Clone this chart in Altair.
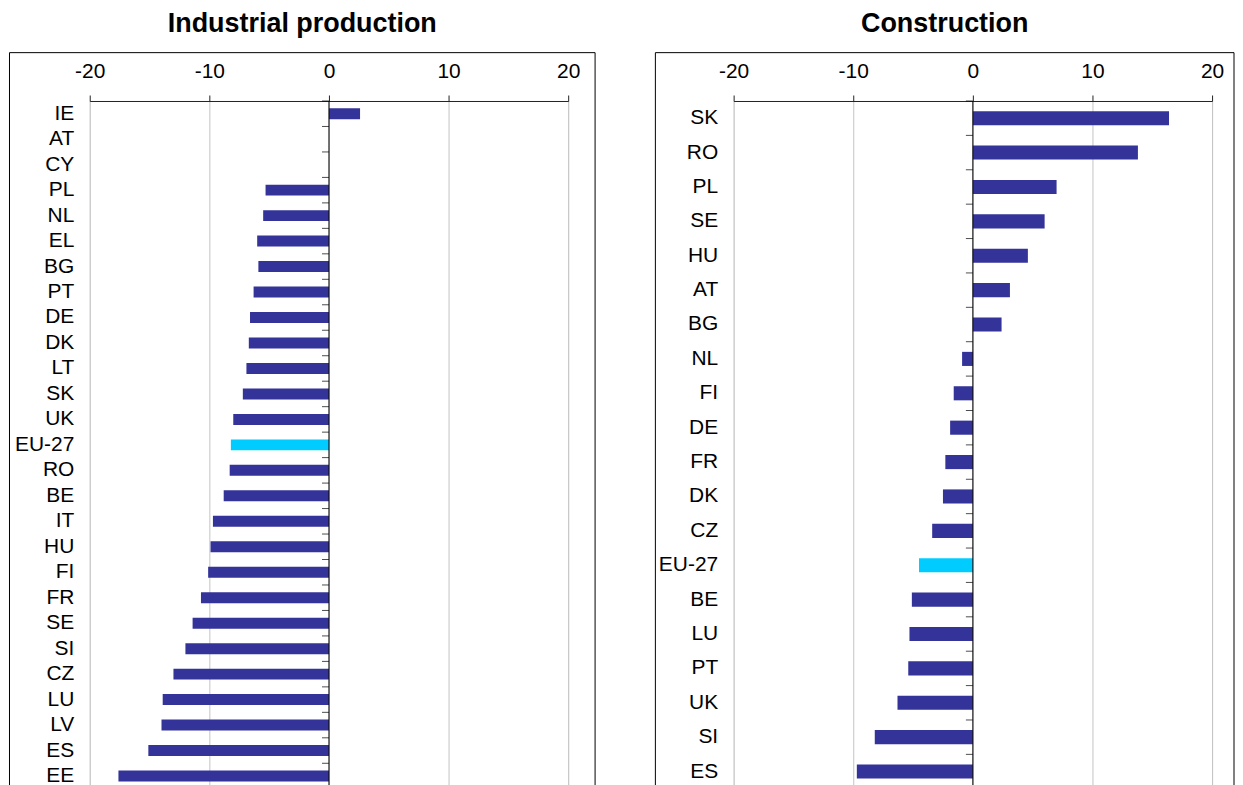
import altair as alt
import pandas as pd

FONT = "Liberation Sans"

ind_countries = ["IE", "AT", "CY", "PL", "NL", "EL", "BG", "PT", "DE", "DK", "LT", "SK", "UK",
                 "EU-27", "RO", "BE", "IT", "HU", "FI", "FR", "SE", "SI", "CZ", "LU", "LV", "ES", "EE"]
ind_values = [2.6, 0.0, 0.0, -5.3, -5.5, -6.0, -5.9, -6.3, -6.6, -6.7, -6.9, -7.2, -8.0,
              -8.2, -8.3, -8.8, -9.7, -9.9, -10.1, -10.7, -11.4, -12.0, -13.0, -13.9, -14.0, -15.1, -17.6]

con_countries = ["SK", "RO", "PL", "SE", "HU", "AT", "BG", "NL", "FI", "DE", "FR", "DK", "CZ",
                 "EU-27", "BE", "LU", "PT", "UK", "SI", "ES"]
con_values = [16.4, 13.8, 7.0, 6.0, 4.6, 3.1, 2.4, -0.9, -1.6, -1.9, -2.3, -2.5, -3.4,
              -4.5, -5.1, -5.3, -5.4, -6.3, -8.2, -9.7]

tick_values = [-20, -10, 0, 10, 20]

PLOT_W = 480
PLOT_H = 690


def panel(countries, values, title, frame_left, frame_right, band_inner):
    n = len(countries)
    step = PLOT_H / n
    df = pd.DataFrame({"country": countries, "value": values})
    df["group"] = ["EU" if c == "EU-27" else "MS" for c in countries]

    x = alt.X("value:Q",
              scale=alt.Scale(domain=[-20, 20], nice=False),
              axis=alt.Axis(orient="top", values=tick_values, title=None, grid=True,
                            gridColor="#c4c4c4", gridWidth=1, domainColor="#222222",
                            tickColor="#222222", tickSize=6, labelFontSize=21,
                            labelPadding=14, labelColor="black", labelFont=FONT,
                            labelFlush=False, labelExpr="'' + datum.value"))
    y = alt.Y("country:N", sort=countries,
              scale=alt.Scale(paddingInner=band_inner, paddingOuter=band_inner / 2),
              axis=alt.Axis(title=None, domain=False, ticks=False, grid=False,
                            labelFontSize=21, labelPadding=16, labelColor="black",
                            labelFont=FONT))

    frame = alt.Chart(pd.DataFrame({"a": [0]})).mark_rect(
        fill="white", fillOpacity=0, stroke="black", strokeWidth=1
    ).encode(x=alt.value(frame_left), x2=alt.value(frame_right),
             y=alt.value(-48.5), y2=alt.value(PLOT_H + 12))

    bars = alt.Chart(df).mark_bar().encode(
        x=x, y=y,
        color=alt.Color("group:N",
                        scale=alt.Scale(domain=["MS", "EU"], range=["#333399", "#00ccff"]),
                        legend=None),
    )

    zero = alt.Chart(pd.DataFrame({"a": [0]})).mark_rule(
        color="black", strokeWidth=1
    ).encode(x=alt.datum(0))

    ticks = alt.Chart(df).mark_tick(
        orient="horizontal", size=7, thickness=1, color="black",
        xOffset=-3.5, yOffset=-step / 2
    ).encode(x=alt.datum(0), y=alt.Y("country:N", sort=countries))

    return alt.layer(frame, bars, zero, ticks).properties(
        width=PLOT_W, height=PLOT_H,
        title=alt.TitleParams(title, fontSize=27, fontWeight="bold", font=FONT,
                              color="black", anchor="middle", frame="bounds", offset=14),
    )


left = panel(ind_countries, ind_values, "Industrial production", -80.5, 507, 0.57)
right = panel(con_countries, con_values, "Construction", -78.5, 502, 0.59)

chart = alt.hconcat(left, right, spacing=58).properties(padding=0).configure_view(
    stroke=None
).configure(font=FONT)

chart.save("out.html", embed_options={"renderer": "svg", "actions": False})
